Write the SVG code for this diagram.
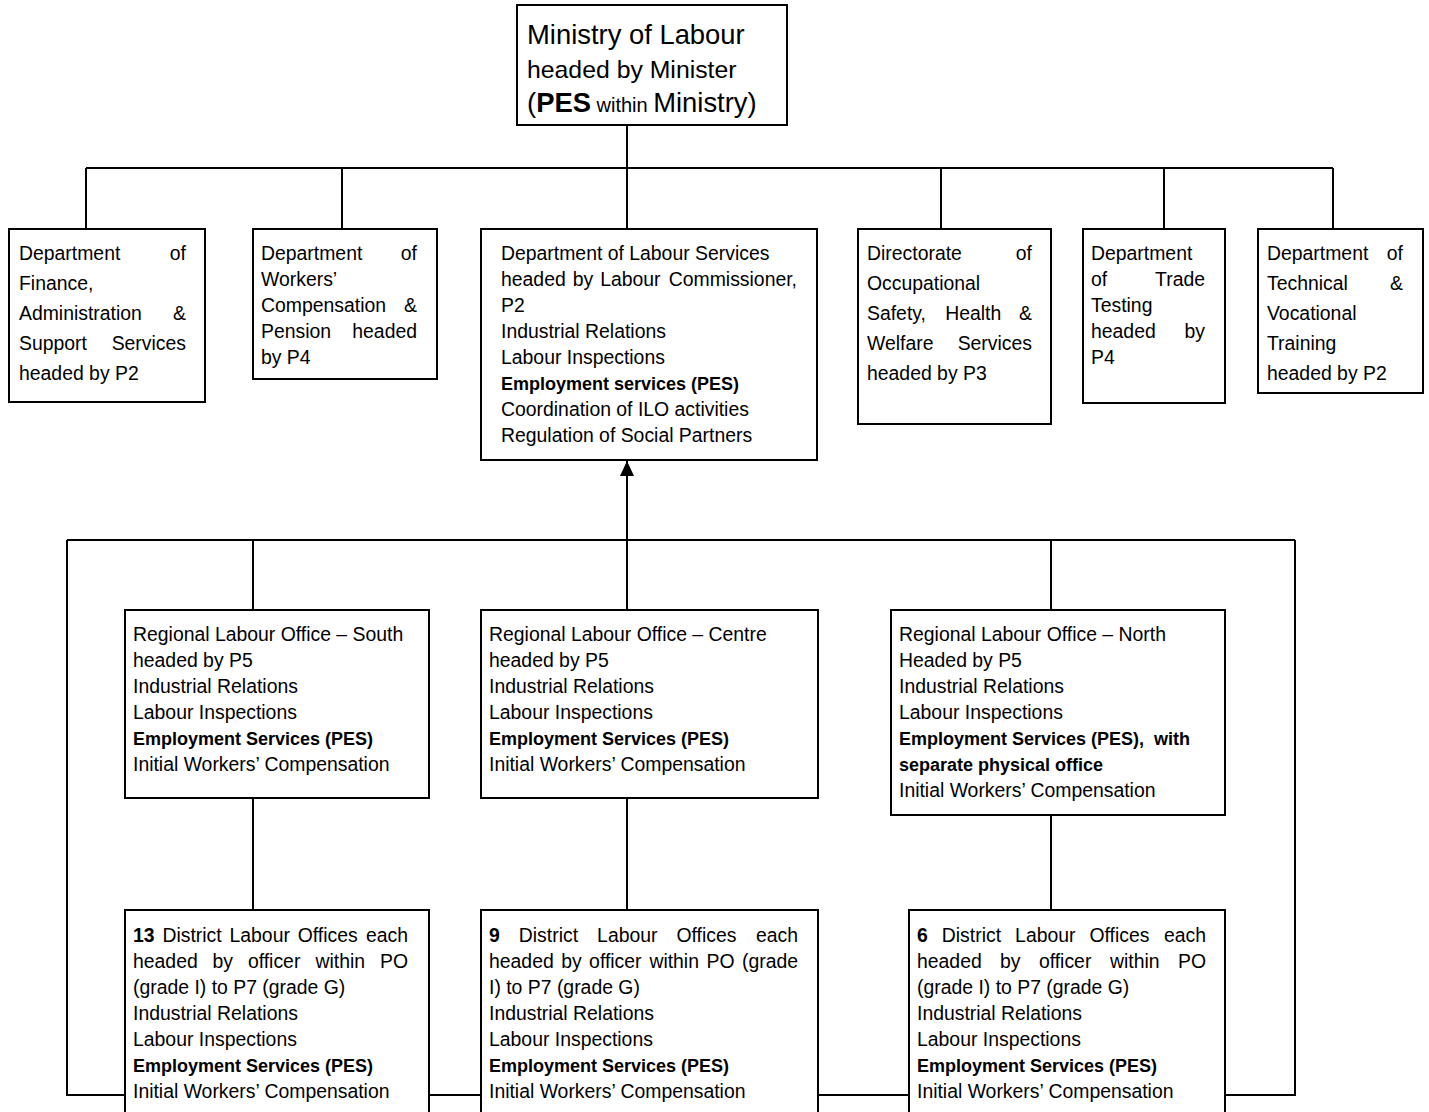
<svg xmlns="http://www.w3.org/2000/svg" width="1429" height="1112" viewBox="0 0 1429 1112">
<style>
.box{fill:#fff;stroke:#000;stroke-width:2}
.ln{fill:none;stroke:#000;stroke-width:2}
text{font-family:"Liberation Sans",Arial,sans-serif;font-size:19.4px;fill:#000}
.b{font-weight:bold;font-size:18px}
.bd{font-weight:bold}
.e{text-anchor:end}
.big{font-size:26px}
</style>
<defs>
<marker id="arr" markerUnits="userSpaceOnUse" markerWidth="16" markerHeight="16" refX="15" refY="7" orient="auto">
<path d="M0,0 L15,7 L0,14 z" fill="#000"/>
</marker>
</defs>
<rect width="1429" height="1112" fill="#fff"/>
<g id="connectors">
<path class="ln" d="M627,125 V168 M86,168 H1333 M86,168 V229 M342,168 V229 M627,168 V229 M941,168 V229 M1164,168 V229 M1333,168 V229"/>
<path class="ln" d="M67,540 H1295 M253,540 V610 M1051,540 V610 M67,540 V1095 H125 M1295,540 V1095 H1225 M429,1095 H481 M818,1095 H909"/>
<path class="ln" d="M253,798 V910 M627,798 V910 M1051,815 V910"/>
<line class="ln" x1="627" y1="610" x2="627" y2="461" marker-end="url(#arr)"/>
</g>
<g id="ministry">
<rect class="box" x="517" y="5" width="270" height="120"/>
<text class="big" x="527" y="44" style="font-size:27.4px">Ministry of Labour</text>
<text class="big" x="527" y="78" style="font-size:24.8px">headed by Minister</text>
<text class="big" x="527" y="112" style="font-size:27.4px">(<tspan class="bd">PES</tspan><tspan style="font-size:20px"> within </tspan>Ministry)</text>
</g>
<g id="finance">
<rect class="box" x="9" y="229" width="196" height="173"/>
<text x="19" y="260">Department</text><text class="e" x="186" y="260">of</text>
<text x="19" y="290">Finance,</text>
<text x="19" y="320">Administration</text><text class="e" x="186" y="320">&amp;</text>
<text x="19" y="350">Support</text><text class="e" x="186" y="350">Services</text>
<text x="19" y="380">headed by P2</text>
</g>
<g id="workers-comp">
<rect class="box" x="253" y="229" width="184" height="150"/>
<text x="261" y="260">Department</text><text class="e" x="417" y="260">of</text>
<text x="261" y="286">Workers’</text>
<text x="261" y="312">Compensation</text><text class="e" x="417" y="312">&amp;</text>
<text x="261" y="338">Pension</text><text class="e" x="417" y="338">headed</text>
<text x="261" y="364">by P4</text>
</g>
<g id="labour-services">
<rect class="box" x="481" y="229" width="336" height="231"/>
<text x="501" y="260">Department of Labour Services</text>
<text y="286"><tspan x="501">headed</tspan><tspan x="572.7">by</tspan><tspan x="600.2">Labour</tspan></text><text class="e" x="797" y="286">Commissioner,</text>
<text x="501" y="312">P2</text>
<text x="501" y="338">Industrial Relations</text>
<text x="501" y="364">Labour Inspections</text>
<text class="b" x="501" y="390">Employment services (PES)</text>
<text x="501" y="416">Coordination of ILO activities</text>
<text x="501" y="442">Regulation of Social Partners</text>
</g>
<g id="osh">
<rect class="box" x="858" y="229" width="193" height="195"/>
<text x="867" y="260">Directorate</text><text class="e" x="1032" y="260">of</text>
<text x="867" y="290">Occupational</text>
<text y="320"><tspan x="867">Safety,</tspan><tspan x="945.2">Health</tspan></text><text class="e" x="1032" y="320">&amp;</text>
<text x="867" y="350">Welfare</text><text class="e" x="1032" y="350">Services</text>
<text x="867" y="380">headed by P3</text>
</g>
<g id="trade-testing">
<rect class="box" x="1083" y="229" width="142" height="174"/>
<text x="1091" y="260">Department</text>
<text x="1091" y="286">of</text><text class="e" x="1205" y="286">Trade</text>
<text x="1091" y="312">Testing</text>
<text x="1091" y="338">headed</text><text class="e" x="1205" y="338">by</text>
<text x="1091" y="364">P4</text>
</g>
<g id="tvet">
<rect class="box" x="1258" y="229" width="165" height="164"/>
<text x="1267" y="260">Department</text><text class="e" x="1403" y="260">of</text>
<text x="1267" y="290">Technical</text><text class="e" x="1403" y="290">&amp;</text>
<text x="1267" y="320">Vocational</text>
<text x="1267" y="350">Training</text>
<text x="1267" y="380">headed by P2</text>
</g>
<g id="rlo-south">
<rect class="box" x="125" y="610" width="304" height="188"/>
<text x="133" y="641">Regional Labour Office – South</text>
<text x="133" y="667">headed by P5</text>
<text x="133" y="693">Industrial Relations</text>
<text x="133" y="719">Labour Inspections</text>
<text class="b" x="133" y="745">Employment Services (PES)</text>
<text x="133" y="771">Initial Workers’ Compensation</text>
</g>
<g id="rlo-centre">
<rect class="box" x="481" y="610" width="337" height="188"/>
<text x="489" y="641">Regional Labour Office – Centre</text>
<text x="489" y="667">headed by P5</text>
<text x="489" y="693">Industrial Relations</text>
<text x="489" y="719">Labour Inspections</text>
<text class="b" x="489" y="745">Employment Services (PES)</text>
<text x="489" y="771">Initial Workers’ Compensation</text>
</g>
<g id="rlo-north">
<rect class="box" x="891" y="610" width="334" height="205"/>
<text x="899" y="641">Regional Labour Office – North</text>
<text x="899" y="667">Headed by P5</text>
<text x="899" y="693">Industrial Relations</text>
<text x="899" y="719">Labour Inspections</text>
<text class="b" x="899" y="745">Employment Services (PES),&#160; with</text>
<text class="b" x="899" y="771">separate physical office</text>
<text x="899" y="797">Initial Workers’ Compensation</text>
</g>
<g id="dlo-south">
<rect class="box" x="125" y="910" width="304" height="220"/>
<text y="942"><tspan class="bd" x="133">13</tspan><tspan x="162.4">District</tspan><tspan x="229.5">Labour</tspan><tspan x="297.7">Offices</tspan></text><text class="e" x="408" y="942">each</text>
<text y="968"><tspan x="133">headed</tspan><tspan x="212.5">by</tspan><tspan x="247.9">officer</tspan><tspan x="315.5">within</tspan></text><text class="e" x="408" y="968">PO</text>
<text x="133" y="994">(grade I) to P7 (grade G)</text>
<text x="133" y="1020">Industrial Relations</text>
<text x="133" y="1046">Labour Inspections</text>
<text class="b" x="133" y="1072">Employment Services (PES)</text>
<text x="133" y="1098">Initial Workers’ Compensation</text>
</g>
<g id="dlo-centre">
<rect class="box" x="481" y="910" width="337" height="220"/>
<text y="942"><tspan class="bd" x="489">9</tspan><tspan x="518.8">District</tspan><tspan x="597.1">Labour</tspan><tspan x="676.5">Offices</tspan></text><text class="e" x="798" y="942">each</text>
<text y="968"><tspan x="489">headed</tspan><tspan x="561.2">by</tspan><tspan x="589.1">officer</tspan><tspan x="649.4">within</tspan><tspan x="706.5">PO</tspan></text><text class="e" x="798" y="968">(grade</text>
<text x="489" y="994">I) to P7 (grade G)</text>
<text x="489" y="1020">Industrial Relations</text>
<text x="489" y="1046">Labour Inspections</text>
<text class="b" x="489" y="1072">Employment Services (PES)</text>
<text x="489" y="1098">Initial Workers’ Compensation</text>
</g>
<g id="dlo-north">
<rect class="box" x="909" y="910" width="316" height="220"/>
<text y="942"><tspan class="bd" x="917">6</tspan><tspan x="941.8">District</tspan><tspan x="1015.1">Labour</tspan><tspan x="1089.5">Offices</tspan></text><text class="e" x="1206" y="942">each</text>
<text y="968"><tspan x="917">headed</tspan><tspan x="1000">by</tspan><tspan x="1038.9">officer</tspan><tspan x="1110">within</tspan></text><text class="e" x="1206" y="968">PO</text>
<text x="917" y="994">(grade I) to P7 (grade G)</text>
<text x="917" y="1020">Industrial Relations</text>
<text x="917" y="1046">Labour Inspections</text>
<text class="b" x="917" y="1072">Employment Services (PES)</text>
<text x="917" y="1098">Initial Workers’ Compensation</text>
</g>
</svg>
